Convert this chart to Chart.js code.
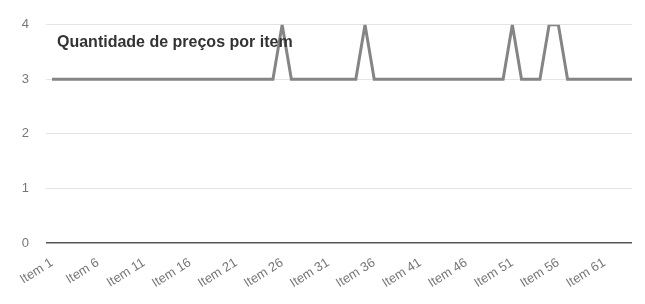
<!DOCTYPE html>
<html>
<head>
<meta charset="utf-8">
<script src="https://cdn.jsdelivr.net/npm/chart.js@4/dist/chart.umd.min.js"></script>
<style>
    html, body { margin: 0; padding: 0; background: #fff; }
    #wrap { position: relative; width: 645px; height: 304px; }
    #titulo {
        position: absolute; left: 57px; top: 33px;
        font: bold 16px "Liberation Sans", Arial, sans-serif; color: #333;
    }
</style>
</head>
<body>
<div id="wrap">
    <canvas id="lineChart" width="645" height="304"></canvas>
    <div id="titulo">Quantidade de preços por item</div>
</div>
<script>
// Quantidade de preços por item (Item 1 .. Item 64)
const itemLabels = [];
for (let i = 1; i <= 64; i++) itemLabels.push("Item " + i);

const quantidades = [
    3, 3, 3, 3, 3, 3, 3, 3, 3, 3,
    3, 3, 3, 3, 3, 3, 3, 3, 3, 3,
    3, 3, 3, 3, 3, 4, 3, 3, 3, 3,
    3, 3, 3, 3, 4, 3, 3, 3, 3, 3,
    3, 3, 3, 3, 3, 3, 3, 3, 3, 3,
    4, 3, 3, 3, 4, 4, 3, 3, 3, 3,
    3, 3, 3, 3
];

const yTicks = [0, 1, 2, 3, 4];

const ctx = document.getElementById("lineChart").getContext("2d");
new Chart(ctx, {
    type: "line",
    data: {
        labels: itemLabels,
        datasets: [{
            label: "Quantidade",
            data: quantidades,
            borderColor: "#858585",
            borderWidth: 3,
            pointRadius: 0,
            tension: 0,
            fill: false
        }]
    },
    options: {
        responsive: false,
        animation: false,
        layout: { padding: { top: 24, right: 13, left: 0, bottom: 0 } },
        plugins: { legend: { display: false }, tooltip: { enabled: false } },
        scales: {
            x: {
                offset: false,
                afterFit: function (scale) { scale.height = 61; },
                grid: { display: false, drawTicks: false },
                border: { display: false },
                ticks: {
                    autoSkip: false,
                    maxRotation: 32,
                    minRotation: 32,
                    padding: 12,
                    color: "#777",
                    font: { family: "Liberation Sans", size: 13 },
                    callback: function (val, index) {
                        return index % 5 === 0 ? itemLabels[index] : null;
                    }
                }
            },
            y: {
                min: 0,
                max: 4,
                afterFit: function (scale) { scale.width = 52; },
                afterBuildTicks: function (scale) {
                    scale.ticks = yTicks.map(v => ({ value: v }));
                },
                border: { display: false },
                grid: {
                    drawTicks: true,
                    tickLength: 6,
                    color: c => c.tick && c.tick.value === 0 ? "#555" : "#e4e4e4",
                    tickColor: c => c.tick && c.tick.value === 0 ? "#555" : "#e4e4e4",
                    lineWidth: c => c.tick && c.tick.value === 0 ? 1.5 : 1
                },
                ticks: {
                    padding: 17,
                    color: "#777",
                    font: { family: "Liberation Sans", size: 13 }
                }
            }
        }
    }
});
</script>
</body>
</html>
